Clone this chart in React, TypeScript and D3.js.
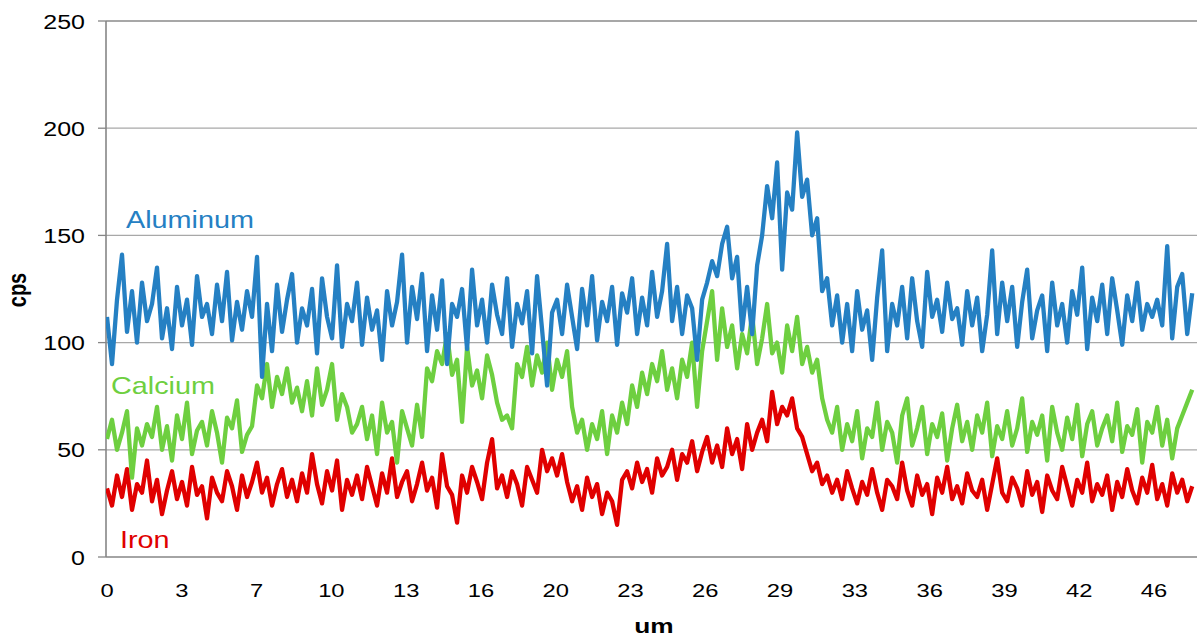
import React, { useEffect, useRef } from 'react';
import * as d3 from 'd3';

// x tick labels (um), evenly spaced every 3.26 um
const xTickLabels = ['0', '3', '7', '10', '13', '16', '20', '23', '26', '29', '33', '36', '39', '42', '46'];
const xTickStep = 3.26;
const yTicks = [0, 50, 100, 150, 200, 250];
// sample spacing along the scan (um)
const sampleStep = 0.218;

const aluminum = [
  112, 90, 120, 141, 105, 124, 100, 128, 110, 118,
  135, 102, 116, 97, 126, 108, 120, 99, 131, 112,
  118, 104, 127, 110, 133, 101, 119, 106, 124, 112,
  140, 84, 118, 96, 127, 105, 120, 132, 100, 116,
  108, 125, 95, 130, 112, 102, 136, 98, 118, 110,
  128, 99, 121, 106, 115, 92, 124, 108, 119, 141,
  100, 126, 111, 132, 96, 122, 106, 129, 90, 118,
  112, 125, 97, 134, 108, 120, 100, 127, 113, 104,
  130, 98, 118, 109, 124, 95, 131, 106, 80, 114,
  120, 104, 127, 112, 97, 125, 108, 131, 101, 119,
  110, 126, 99, 123, 114, 130, 104, 121, 108, 133,
  112, 124, 146, 110, 126, 104, 122, 116, 92, 120,
  128, 138, 131, 146, 154, 130, 140, 106, 126, 104,
  136, 150, 173, 158, 184, 134, 170, 162, 198, 168,
  176, 150, 158, 124, 130, 108, 122, 100, 118, 96,
  124, 106, 115, 92, 121, 143, 96, 118, 108, 126,
  102, 130, 110, 98, 133, 112, 120, 105, 128, 111,
  116, 99, 124, 108, 121, 96, 113, 143, 104, 128,
  110, 126, 98, 119, 134, 102, 115, 122, 96, 128,
  108, 118, 100, 124, 113, 135, 97, 121, 110, 127,
  104, 130, 115, 99, 122, 110, 128, 106, 118, 112,
  120, 108, 145, 102, 126, 132, 104, 123,
];

const calcium = [
  55, 64, 50, 58, 68, 37, 60, 52, 62, 56,
  70, 50, 61, 45, 66, 55, 72, 48, 59, 63,
  52, 68, 58, 44, 65, 60, 73, 49, 57, 61,
  80, 74, 90, 70, 84, 76, 88, 72, 79, 68,
  82, 66, 88, 71, 78, 90, 64, 76, 70, 58,
  62, 70, 55, 66, 48, 72, 58, 63, 44, 68,
  60, 52, 71, 56, 88, 82, 96, 90, 104, 85,
  92, 63, 98, 80, 87, 74, 94, 85, 72, 64,
  66, 60, 90, 84, 98, 80, 94, 86, 100, 78,
  92, 84, 96, 70, 58, 64, 50, 62, 55, 68,
  48, 66, 58, 72, 62, 80, 70, 86, 76, 90,
  82, 96, 78, 88, 74, 92, 84, 100, 70, 96,
  110, 124, 92, 116, 98, 108, 88, 104, 95, 113,
  90, 102, 118, 95, 100, 86, 108, 96, 112, 90,
  98, 86, 92, 74, 64, 58, 70, 50, 62, 54,
  68, 46, 60, 56, 72, 50, 63, 58, 44, 66,
  74, 52, 60, 70, 48, 62, 56, 67, 45, 60,
  71, 54, 63, 50, 66, 58, 72, 47, 61, 55,
  68, 52, 60, 74, 49, 63, 57, 66, 45, 70,
  58, 50, 65, 55, 71, 47, 62, 68, 52, 60,
  66, 54, 72, 49, 61, 57, 69, 44, 63, 58,
  70, 52, 64, 46, 60, 66, 72, 78,
];

const iron = [
  32, 24, 38, 28, 41, 22, 34, 30, 45, 26,
  36, 20, 31, 40, 27, 35, 24, 42, 29, 33,
  18, 37, 30, 26, 40, 33, 22, 38, 28, 35,
  44, 30, 37, 24, 34, 41, 28, 36, 26, 39,
  30, 48, 34, 25, 40, 31, 45, 22, 36, 29,
  38, 27, 42, 33, 24, 39, 30, 46, 28, 35,
  40, 26, 34, 44, 31, 37, 23, 48, 33, 29,
  16, 38, 30, 42, 35, 27, 44, 55, 32, 38,
  28, 40, 34, 24, 42, 36, 30, 50, 40, 46,
  38, 48, 35, 26, 33, 22, 37, 28, 34, 20,
  30, 26, 15, 36, 40, 32, 44, 35, 41, 30,
  46, 38, 42, 50, 36, 48, 44, 54, 40, 49,
  56, 44, 52, 42, 60, 48, 55, 41, 62, 50,
  58, 64, 54, 77, 62, 70, 66, 74, 60, 56,
  48, 40, 44, 34, 38, 30, 36, 27, 40, 32,
  25, 35, 29, 41, 30, 22, 36, 33, 27, 44,
  31, 24, 38, 29, 34, 20, 37, 30, 42, 27,
  33, 25, 39, 31, 28, 36, 22, 34, 46, 30,
  26, 37, 32, 24, 40, 29, 35, 21, 38, 31,
  27, 42, 33, 24, 36, 30, 44, 26, 34, 29,
  38, 22, 35, 28, 41, 31, 25, 37, 30, 43,
  27, 34, 24, 39, 30, 36, 26, 33,
];

const seriesNames = ['Aluminum', 'Calcium', 'Iron'];
const seriesColors = ['#2580C3', '#6ECF40', '#E00000'];

const App: React.FC = () => {
  const svgRef = useRef<SVGSVGElement>(null);
  const width = 1197;
  const height = 639;

  useEffect(() => {
    if (!svgRef.current) return;
    const svg = d3.select(svgRef.current);
    svg.selectAll('*').remove();

    const left = 106;
    const right = 1197;
    const top = 21;
    const bottom = 557;
    const font = 'Arial, "Liberation Sans", sans-serif';

    const x = d3.scaleLinear().domain([0, xTickStep * 14]).range([107, 1154]);
    const y = d3.scaleLinear().domain([0, 250]).range([bottom, top]);

    // stretched text helper (the reference text is wider than normal)
    const label = (tx: number, ty: number, text: string, size: number, anchor: string, color: string, weight = 'normal', sx = 1.25) =>
      svg.append('text')
        .attr('transform', `translate(${tx},${ty}) scale(${sx},1)`)
        .attr('text-anchor', anchor)
        .attr('font-family', font)
        .attr('font-size', size)
        .attr('font-weight', weight)
        .attr('fill', color)
        .text(text);

    // gridlines
    svg.append('g')
      .selectAll('line')
      .data(yTicks.filter(d => d > 0))
      .join('line')
      .attr('x1', left)
      .attr('x2', right)
      .attr('y1', d => y(d))
      .attr('y2', d => y(d))
      .attr('stroke', d => (d === 250 ? '#8a8a8a' : '#a8a8a8'))
      .attr('stroke-width', 1.3);

    // y ticks + labels
    yTicks.forEach(t => {
      svg.append('line')
        .attr('x1', 98).attr('x2', left)
        .attr('y1', y(t)).attr('y2', y(t))
        .attr('stroke', '#868686').attr('stroke-width', 1.3);
      label(85, y(t) + 7.5, String(t), 20, 'end', '#000');
    });

    // axes
    svg.append('line')
      .attr('x1', left).attr('x2', left).attr('y1', top).attr('y2', bottom)
      .attr('stroke', '#868686').attr('stroke-width', 1.6);
    svg.append('line')
      .attr('x1', left).attr('x2', right).attr('y1', bottom).attr('y2', bottom)
      .attr('stroke', '#868686').attr('stroke-width', 1.6);

    // x tick labels
    xTickLabels.forEach((t, i) => {
      label(x(i * xTickStep), 597, t, 19, 'middle', '#000');
    });

    // lines
    svg.append('clipPath').attr('id', 'plot-clip')
      .append('rect').attr('x', left).attr('y', 0).attr('width', right - left).attr('height', bottom);

    const line = d3.line<number>()
      .x((_, i) => x(i * sampleStep))
      .y(d => y(d));

    [iron, calcium, aluminum].forEach((s, k) => {
      const idx = 2 - k;
      svg.append('path')
        .datum(s)
        .attr('d', line)
        .attr('fill', 'none')
        .attr('stroke', seriesColors[idx])
        .attr('stroke-width', 4.3)
        .attr('stroke-linejoin', 'round')
        .attr('clip-path', 'url(#plot-clip)');
    });

    // series labels
    label(126, 228, seriesNames[0], 24, 'start', seriesColors[0], 'normal', 1.2);
    label(111, 394, seriesNames[1], 24, 'start', seriesColors[1], 'normal', 1.2);
    label(120, 548, seriesNames[2], 24, 'start', seriesColors[2], 'normal', 1.2);

    // axis titles
    svg.append('text')
      .attr('transform', 'translate(26,290) rotate(-90) scale(1,1.25)')
      .attr('text-anchor', 'middle')
      .attr('font-family', font)
      .attr('font-size', 20)
      .attr('font-weight', 'bold')
      .attr('fill', '#000')
      .text('cps');
    label(654, 633, 'um', 21, 'middle', '#000', 'bold');
  }, []);

  return (
    <svg
      ref={svgRef}
      width={width}
      height={height}
      style={{ position: 'absolute', left: 0, top: 0, background: '#fff' }}
    />
  );
};

export default App;
